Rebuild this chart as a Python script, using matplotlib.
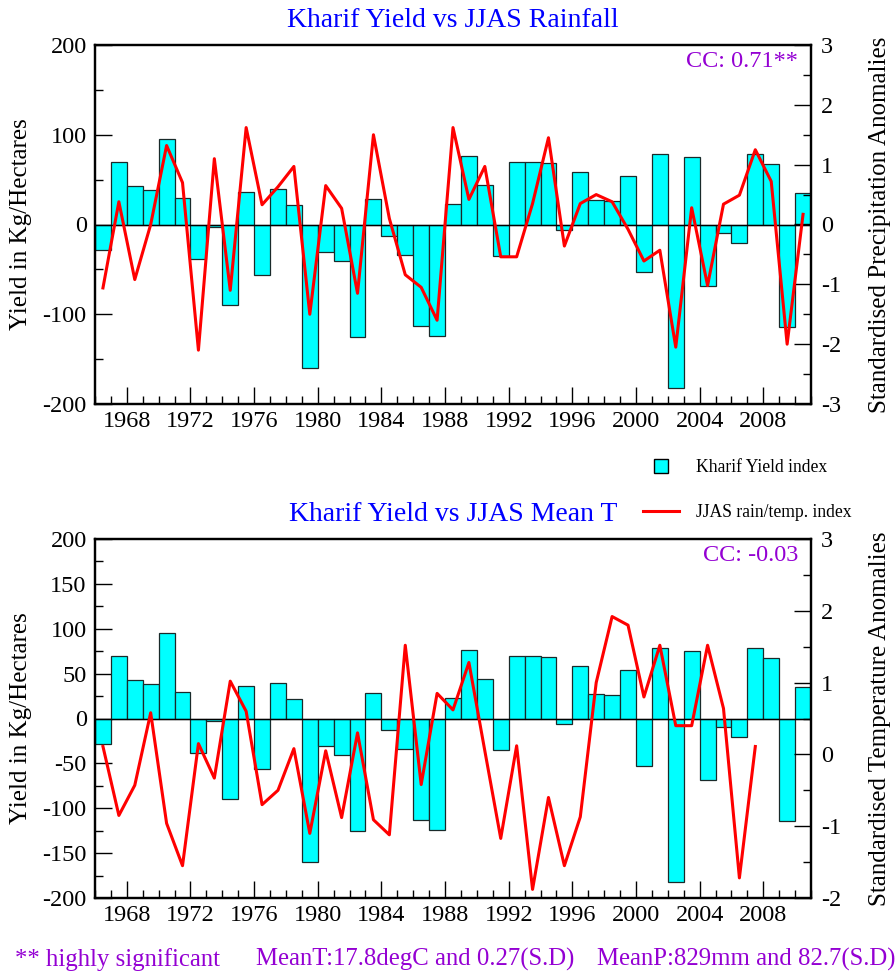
#!/usr/bin/env python3
"""Kharif yield index against JJAS rainfall and mean temperature anomalies."""

import matplotlib
matplotlib.use('Agg')
import matplotlib.pyplot as plt
from matplotlib.lines import Line2D
from matplotlib.ticker import MultipleLocator
import numpy as np

plt.rcParams.update({
    'font.family': 'serif',
    'font.serif': ['Liberation Serif', 'DejaVu Serif'],
    'font.size': 17.5,
    'axes.unicode_minus': False,
})

W, H = 896, 974

# Kharif yield index (Kg/Hectares), 1966-2010
years = np.arange(1966, 2011)
yield_idx = [-28, 70, 43, 38, 95, 30, -38, -3, -90, 36,
             -56, 40, 22, -160, -31, -41, -125, 28, -13, -34,
             -113, -124, 23, 76, 44, -35, 70, 70, 68, -6,
             58, 27, 26, 54, -53, 78, -182, 75, -68, -9,
             -21, 79, 67, -114, 35]

# JJAS standardised precipitation anomalies, 1966-2010
rain_years = np.arange(1966, 2011)
rain_anom = [-1.06, 0.38, -0.92, 0.0, 1.32, 0.70, -2.1, 1.1, -1.1, 1.62,
             0.33, 0.63, 0.97, -1.5, 0.65, 0.27, -1.15, 1.5, 0.1, -0.84,
             -1.05, -1.6, 1.62, 0.42, 0.97, -0.54, -0.54, 0.35, 1.45, -0.36,
             0.35, 0.5, 0.38, -0.08, -0.61, -0.43, -2.05, 0.28, -1.02, 0.34,
             0.49, 1.25, 0.72, -2.0, 0.17]

# JJAS standardised mean temperature anomalies, 1966-2007
temp_years = np.arange(1966, 2008)
temp_anom = [0.11, -0.85, -0.43, 0.58, -0.96, -1.55, 0.15, -0.33, 1.02, 0.6,
             -0.7, -0.5, 0.08, -1.1, 0.05, -0.88, 0.3, -0.91, -1.12, 1.52,
             -0.42, 0.85, 0.62, 1.28, 0.05, -1.17, 0.12, -1.88, -0.6, -1.55,
             -0.87, 1.0, 1.92, 1.8, 0.8, 1.52, 0.4, 0.4, 1.52, 0.64,
             -1.72, 0.11]

year_ticks = np.arange(1968, 2009, 4)

CYAN = '#00FFFF'
RED = '#FF0000'
BLUE = '#0000FF'
PURPLE = '#9400D3'


def style_axis(ax):
    for s in ax.spines.values():
        s.set_linewidth(1.6)
    ax.tick_params(which='both', direction='in', width=1.0)
    ax.tick_params(which='major', length=12)
    ax.tick_params(which='minor', length=6)


def draw_panel(ax, line_years, line_vals, title, right_label, cc,
               left_step, right_lim):
    ax.bar(years, yield_idx, width=1.0, align='edge', color=CYAN,
           edgecolor='#1a2a2a', linewidth=0.9, zorder=2)
    ax.axhline(0, color='black', lw=1.0, zorder=3)
    ax.set_xlim(1966, 2011)
    ax.set_ylim(-200, 200)
    ax.set_xticks(year_ticks)
    ax.xaxis.set_minor_locator(MultipleLocator(1))
    ax.yaxis.set_major_locator(MultipleLocator(left_step))
    ax.yaxis.set_minor_locator(MultipleLocator(left_step / 2))
    ax.set_ylabel('Yield in Kg/Hectares', fontsize=18)
    ax.yaxis.set_label_coords(-0.088, 0.5)
    ax.set_title(title, color=BLUE, fontsize=20, pad=13)
    style_axis(ax)
    ax.tick_params(axis='x', which='both', top=False, pad=5)
    ax.tick_params(axis='y', which='both', pad=6)

    axr = ax.twinx()
    axr.plot(line_years + 0.5, line_vals, color=RED, lw=2.2, zorder=4)
    axr.set_ylim(*right_lim)
    axr.yaxis.set_major_locator(MultipleLocator(1))
    axr.yaxis.set_minor_locator(MultipleLocator(0.5))
    axr.set_ylabel(right_label, fontsize=18)
    axr.yaxis.set_label_coords(1.081, 0.5)
    style_axis(axr)
    axr.tick_params(axis='y', which='both', pad=7)

    ax.text(0.982, 0.939, cc, transform=ax.transAxes, ha='right',
            va='baseline', color=PURPLE, fontsize=17.5)
    return axr


fig = plt.figure(figsize=(W / 100, H / 100), dpi=100)
ax_top = fig.add_axes([95 / W, 1 - 404 / H, 716 / W, 359 / H])
ax_bot = fig.add_axes([95 / W, 1 - 898 / H, 716 / W, 359 / H])

draw_panel(ax_top, rain_years, rain_anom, 'Kharif Yield vs JJAS Rainfall',
           'Standardised Precipitation Anomalies', 'CC: 0.71**', 100, (-3, 3))
draw_panel(ax_bot, temp_years, temp_anom, 'Kharif Yield vs JJAS Mean T',
           'Standardised Temperature Anomalies', 'CC: -0.03', 50, (-2, 3))

# legend between the two panels
handles = [
    Line2D([], [], ls='none', marker='s', markersize=10.5,
           markerfacecolor=CYAN, markeredgecolor='black', markeredgewidth=1.0),
    Line2D([], [], color=RED, lw=2.2),
]
fig.legend(handles, ['Kharif Yield index', 'JJAS rain/temp. index'],
           loc='upper left', bbox_to_anchor=(643 / W, 1 - 459 / H),
           frameon=False, fontsize=12.7, handlelength=2.05,
           handletextpad=0.95, labelspacing=1.59, borderpad=0,
           borderaxespad=0)

# footer notes
fig.text(15 / W, 1 - 966 / H, '** highly significant', color=PURPLE,
         fontsize=17.8, va='baseline')
fig.text(256 / W, 1 - 966 / H, 'MeanT:17.8degC and 0.27(S.D)', color=PURPLE,
         fontsize=17.8, va='baseline')
fig.text(597 / W, 1 - 966 / H, 'MeanP:829mm and 82.7(S.D)', color=PURPLE,
         fontsize=17.8, va='baseline')

fig.savefig('out.png', dpi=100)
